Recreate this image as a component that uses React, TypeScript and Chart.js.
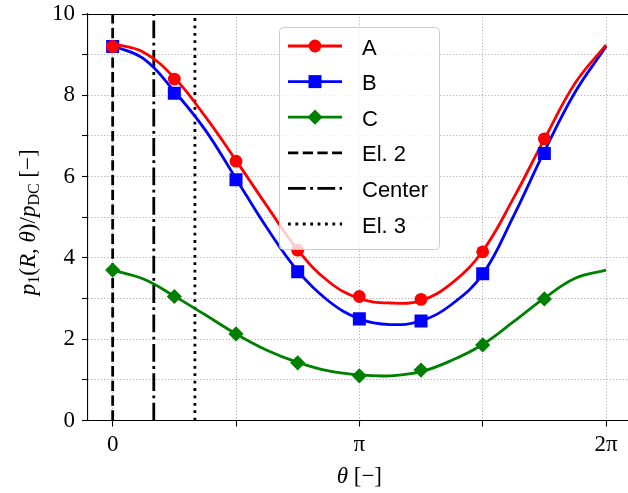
import { useEffect, useRef } from "react";
import { Chart, registerables } from "chart.js";

Chart.register(...registerables);

const PI = Math.PI;

// Measured pressure at the probe angles (θ in units of π)
const markerThetaPi = [0, 0.25, 0.5, 0.75, 1, 1.25, 1.5, 1.75];
const markerA = [9.2, 8.4, 6.38, 4.19, 3.05, 2.98, 4.15, 6.93];
const markerB = [9.2, 8.05, 5.92, 3.66, 2.5, 2.45, 3.61, 6.57];
const markerC = [3.7, 3.05, 2.13, 1.42, 1.1, 1.24, 1.86, 2.99];

// Fitted curves, sampled every π/8
const curveThetaPi = [
  0, 0.125, 0.25, 0.375, 0.5, 0.625, 0.75, 0.875, 1, 1.125, 1.25, 1.375, 1.5,
  1.625, 1.75, 1.875, 2,
];
const curveA = [
  9.27, 9.06, 8.43, 7.48, 6.4, 5.28, 4.2, 3.42, 3.0, 2.89, 2.95, 3.38, 4.17,
  5.47, 6.92, 8.3, 9.24,
];
const curveB = [
  9.22, 8.9, 8.1, 7.15, 5.95, 4.74, 3.68, 2.94, 2.5, 2.36, 2.45, 2.86, 3.6,
  5.03, 6.62, 8.08, 9.2,
];
const curveC = [
  3.7, 3.48, 3.06, 2.6, 2.13, 1.73, 1.43, 1.22, 1.12, 1.1, 1.2, 1.48, 1.87,
  2.43, 3.01, 3.5, 3.7,
];

// Electrode and center positions (θ in units of π)
const vlineThetaPi = [0, 1 / 6, 1 / 3];

const seriesNames = ["A", "B", "C"];
const vlineNames = ["El. 2", "Center", "El. 3"];

const xTickThetaPi = [0, 0.5, 1, 1.5, 2];
const xTickLabels = ["0", "", "π", "", "2π"];
const yMin = 0;
const yMax = 10;

// styling
const seriesColors = ["#ff0000", "#0000ff", "#008000"];
const seriesPointStyles = ["circle", "rect", "rectRot"];
const seriesPointRadius = [6.4, 9.2, 7.6];
const vlineDashes = [
  [10.3, 4.4],
  [17.8, 4.4, 2.8, 4.4],
  [2.8, 4.6],
];
const LW = 2.8;
const SERIF = "'Liberation Serif', 'DejaVu Serif', serif";
const SANS = "'Liberation Sans', 'DejaVu Sans', sans-serif";

const toPts = (thetaPi: number[], vals: number[]) =>
  thetaPi.map((t, i) => ({ x: t * PI, y: vals[i] }));

function drawMarker(
  ctx: CanvasRenderingContext2D,
  style: string,
  x: number,
  y: number,
  r: number,
  color: string
) {
  ctx.save();
  ctx.fillStyle = color;
  ctx.beginPath();
  if (style === "circle") {
    ctx.arc(x, y, r, 0, 2 * PI);
  } else if (style === "rect") {
    const s = r * Math.SQRT1_2;
    ctx.rect(x - s, y - s, 2 * s, 2 * s);
  } else {
    ctx.moveTo(x - r, y);
    ctx.lineTo(x, y - r);
    ctx.lineTo(x + r, y);
    ctx.lineTo(x, y + r);
    ctx.closePath();
  }
  ctx.fill();
  ctx.restore();
}

type Piece = { t: string; font: string; dy: number };

function drawPieces(ctx: CanvasRenderingContext2D, pieces: Piece[], x0: number) {
  let x = x0;
  for (const p of pieces) {
    ctx.font = p.font;
    ctx.fillText(p.t, x, p.dy);
    x += ctx.measureText(p.t).width;
  }
}

function piecesWidth(ctx: CanvasRenderingContext2D, pieces: Piece[]) {
  let w = 0;
  for (const p of pieces) {
    ctx.font = p.font;
    w += ctx.measureText(p.t).width;
  }
  return w;
}

const decorPlugin = {
  id: "decor",
  afterDraw(chart: any) {
    const ctx: CanvasRenderingContext2D = chart.ctx;
    const a = chart.chartArea;
    ctx.save();

    // top and right spines
    const topY = Math.round(a.top) + 0.5;
    ctx.strokeStyle = "#000";
    ctx.lineWidth = 1.2;
    ctx.beginPath();
    ctx.moveTo(a.left, topY);
    ctx.lineTo(a.right, topY);
    ctx.lineTo(a.right, a.bottom);
    ctx.stroke();

    // axis titles
    ctx.fillStyle = "#000";
    ctx.textBaseline = "alphabetic";
    const big = 23;
    const small = 16;
    const it = `italic ${big}px ${SERIF}`;
    const up = `${big}px ${SERIF}`;
    const sub = `${small}px ${SERIF}`;

    const xTitle: Piece[] = [
      { t: "θ", font: it, dy: 0 },
      { t: " [−]", font: up, dy: 0 },
    ];
    const xw = piecesWidth(ctx, xTitle);
    ctx.save();
    ctx.translate((a.left + a.right) / 2, 483);
    drawPieces(ctx, xTitle, -xw / 2);
    ctx.restore();

    const yTitle: Piece[] = [
      { t: "p", font: it, dy: 0 },
      { t: "1", font: sub, dy: 4 },
      { t: "(", font: up, dy: 0 },
      { t: "R", font: it, dy: 0 },
      { t: ", ", font: up, dy: 0 },
      { t: "θ", font: it, dy: 0 },
      { t: ")/", font: up, dy: 0 },
      { t: "p", font: it, dy: 0 },
      { t: "DC", font: sub, dy: 4 },
      { t: " [−]", font: up, dy: 0 },
    ];
    const yw = piecesWidth(ctx, yTitle);
    ctx.save();
    ctx.translate(35, (a.top + a.bottom) / 2 + 5);
    ctx.rotate(-PI / 2);
    drawPieces(ctx, yTitle, -yw / 2);
    ctx.restore();

    // legend
    const bx = 279.5;
    const by = 27.5;
    const bw = 160;
    const bh = 222;
    const rad = 4;
    ctx.beginPath();
    ctx.moveTo(bx + rad, by);
    ctx.arcTo(bx + bw, by, bx + bw, by + bh, rad);
    ctx.arcTo(bx + bw, by + bh, bx, by + bh, rad);
    ctx.arcTo(bx, by + bh, bx, by, rad);
    ctx.arcTo(bx, by, bx + bw, by, rad);
    ctx.closePath();
    ctx.fillStyle = "rgba(255,255,255,0.8)";
    ctx.fill();
    ctx.strokeStyle = "#cccccc";
    ctx.lineWidth = 1;
    ctx.stroke();

    const rowY0 = 46;
    const rowStep = 35.6;
    const hx0 = 288;
    const hx1 = 342;
    const textX = 362;
    const labels = [...seriesNames, ...vlineNames];
    labels.forEach((label, i) => {
      const y = rowY0 + i * rowStep;
      ctx.save();
      ctx.lineWidth = LW;
      ctx.lineCap = "butt";
      if (i < seriesNames.length) {
        ctx.strokeStyle = seriesColors[i];
        ctx.setLineDash([]);
      } else {
        ctx.strokeStyle = "#000";
        ctx.setLineDash(vlineDashes[i - seriesNames.length]);
      }
      ctx.beginPath();
      ctx.moveTo(hx0, y);
      ctx.lineTo(hx1, y);
      ctx.stroke();
      ctx.restore();
      if (i < seriesNames.length) {
        drawMarker(
          ctx,
          seriesPointStyles[i],
          (hx0 + hx1) / 2,
          y,
          seriesPointRadius[i],
          seriesColors[i]
        );
      }
      ctx.fillStyle = "#000";
      ctx.font = `22px ${SANS}`;
      ctx.textBaseline = "alphabetic";
      ctx.fillText(label, textX, y + 8.5);
    });

    ctx.restore();
  },
};

export default function App() {
  const canvasRef = useRef<HTMLCanvasElement | null>(null);

  useEffect(() => {
    const canvas = canvasRef.current;
    if (!canvas) return;

    const curves = [curveA, curveB, curveC].map((vals, i) => ({
      label: seriesNames[i] + " fit",
      data: toPts(curveThetaPi, vals),
      showLine: true,
      borderColor: seriesColors[i],
      backgroundColor: seriesColors[i],
      borderWidth: LW,
      pointRadius: 0,
      tension: 0.4,
      order: 1,
    }));
    const markers = [markerA, markerB, markerC].map((vals, i) => ({
      label: seriesNames[i],
      data: toPts(markerThetaPi, vals),
      showLine: false,
      pointStyle: seriesPointStyles[i],
      pointRadius: seriesPointRadius[i],
      pointBorderWidth: 0,
      pointBackgroundColor: seriesColors[i],
      pointBorderColor: seriesColors[i],
      order: 0,
    }));
    const vlines = vlineThetaPi.map((t, i) => ({
      label: vlineNames[i],
      data: [
        { x: t * PI, y: yMin },
        { x: t * PI, y: yMax },
      ],
      showLine: true,
      borderColor: "#000",
      borderWidth: LW,
      borderDash: vlineDashes[i],
      pointRadius: 0,
      order: 2,
    }));

    const tickGrid = {
      color: "#b0b0b0",
      lineWidth: 1,
      tickLength: 6,
      tickColor: "#000",
      tickWidth: 1.1,
      tickBorderDash: [],
    };

    const chart = new Chart(canvas, {
      type: "scatter",
      data: { datasets: [...curves, ...markers, ...vlines] as any },
      plugins: [decorPlugin],
      options: {
        animation: false,
        responsive: false,
        devicePixelRatio: 1,
        events: [],
        layout: { padding: { left: 0, top: 14, right: 640 - 630.7, bottom: 0 } },
        plugins: { legend: { display: false }, tooltip: { enabled: false } },
        scales: {
          x: {
            type: "linear",
            min: -0.1 * PI,
            max: 2.1 * PI,
            afterBuildTicks: (s: any) => {
              s.ticks = xTickThetaPi.map((t) => ({ value: t * PI }));
            },
            afterFit: (s: any) => {
              s.height = 493 - 420.5;
              s.paddingLeft = 0;
              s.paddingRight = 0;
            },
            ticks: {
              autoSkip: false,
              maxRotation: 0,
              padding: 7,
              color: "#000",
              font: { family: SERIF, size: 23, lineHeight: 1 },
              callback: (_v: any, idx: number) => xTickLabels[idx],
            },
            grid: tickGrid,
            border: { display: true, color: "#000", width: 1.1, dash: [1.2, 2] },
          },
          y: {
            type: "linear",
            min: yMin,
            max: yMax,
            afterFit: (s: any) => {
              s.width = 88;
              s.paddingTop = 0;
              s.paddingBottom = 0;
            },
            ticks: {
              stepSize: 1,
              padding: 7,
              color: "#000",
              font: { family: SERIF, size: 23, lineHeight: 1 },
              callback: (v: any) => (Number(v) % 2 === 0 ? String(v) : ""),
            },
            grid: tickGrid,
            border: { display: true, color: "#000", width: 1.1, dash: [1.2, 2] },
          },
        },
      } as any,
    });

    return () => chart.destroy();
  }, []);

  return (
    <div
      style={{
        position: "fixed",
        left: 0,
        top: 0,
        width: 628,
        height: 493,
        overflow: "hidden",
        background: "#fff",
      }}
    >
      <canvas ref={canvasRef} width={640} height={493} style={{ display: "block" }} />
    </div>
  );
}
